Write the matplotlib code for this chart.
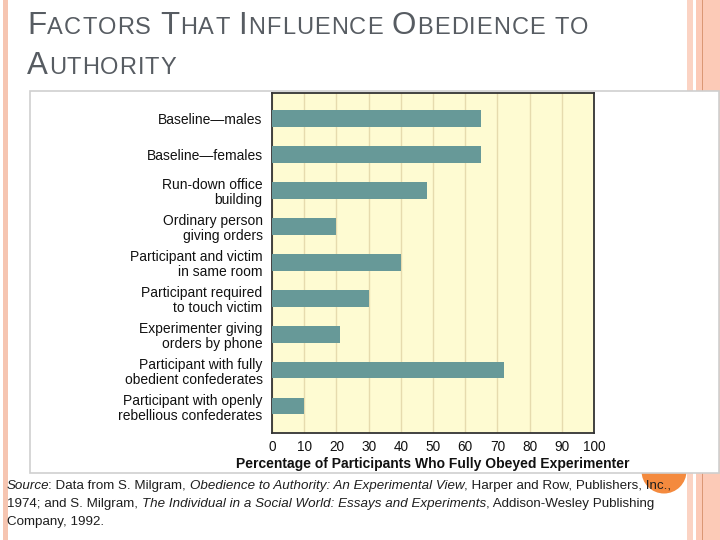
import matplotlib
matplotlib.use("Agg")
import matplotlib.pyplot as plt
from matplotlib.patches import Rectangle, Circle

# ---- data ----
categories = [
    "Baseline\u2014males",
    "Baseline\u2014females",
    "Run-down office\nbuilding",
    "Ordinary person\ngiving orders",
    "Participant and victim\nin same room",
    "Participant required\nto touch victim",
    "Experimenter giving\norders by phone",
    "Participant with fully\nobedient confederates",
    "Participant with openly\nrebellious confederates",
]
values = [65, 65, 48, 20, 40, 30, 21, 72, 10]
xticks = [0, 10, 20, 30, 40, 50, 60, 70, 80, 90, 100]
xlabel = "Percentage of Participants Who Fully Obeyed Experimenter"

title_line1 = [("F", "big"), ("ACTORS ", "small"), ("T", "big"), ("HAT ", "small"),
               ("I", "big"), ("NFLUENCE ", "small"), ("O", "big"), ("BEDIENCE TO", "small")]
title_line2 = [("A", "big"), ("UTHORITY", "small")]

source_lines = [
    [("Source", "i"), (": Data from S. Milgram, ", "n"),
     ("Obedience to Authority: An Experimental View", "i"),
     (", Harper and Row, Publishers, Inc.,", "n")],
    [("1974; and S. Milgram, ", "n"),
     ("The Individual in a Social World: Essays and Experiments", "i"),
     (", Addison-Wesley Publishing", "n")],
    [("Company, 1992.", "n")],
]

FONT = ["Liberation Sans", "DejaVu Sans"]
plt.rcParams["font.family"] = FONT

W, H = 720, 540
fig = plt.figure(figsize=(7.2, 5.4), dpi=100)
fig.patch.set_facecolor("white")

bg = fig.add_axes([0, 0, 1, 1], zorder=0)
bg.set_xlim(0, W)
bg.set_ylim(H, 0)
bg.axis("off")

# slide decorations
bg.add_patch(Rectangle((3, 0), 4.5, H, color="#F6C5B1", lw=0, zorder=1))
bg.add_patch(Rectangle((687, 0), 5.5, H, color="#FBD3C3", lw=0, zorder=1))
bg.add_patch(Rectangle((696, 0), 24, H, color="#FCCAB7", lw=0, zorder=1))
bg.add_patch(Rectangle((702, 0), 1.2, H, color="#DB9775", lw=0, zorder=1))
bg.add_patch(Circle((664, 471), 22.5, color="#F48A3E", lw=0, zorder=2))
# picture frame
bg.add_patch(Rectangle((30, 90.5), 688.5, 382, facecolor="white",
                       edgecolor="#CFCFCF", lw=1.2, zorder=3))

renderer = fig.canvas.get_renderer()


def text_width(s, style):
    t = bg.text(0, 0, "x" + s + "x", **style)
    w1 = t.get_window_extent(renderer=renderer).width
    t.remove()
    t = bg.text(0, 0, "xx", **style)
    w0 = t.get_window_extent(renderer=renderer).width
    t.remove()
    return w1 - w0


def draw_tracked(x, y, runs, styles, target_width=None):
    chars = [(c, k) for s, k in runs for c in s]
    widths = [text_width(c, styles[k]) for c, k in chars]
    natural = sum(widths)
    track = 0.0
    if target_width is not None and len(chars) > 1:
        track = (target_width - natural) / (len(chars) - 1)
    for (c, k), w in zip(chars, widths):
        if c != " ":
            bg.text(x, y, c, va="baseline", ha="left", zorder=6, **styles[k])
        x += w + track


def draw_runs(x, y, runs, styles):
    prev = None
    for txt, key in runs:
        if prev == "i" and txt[:1] == ":":
            x -= 1.5
        bg.text(x, y, txt, va="baseline", ha="left", zorder=6, **styles[key])
        x += text_width(txt, styles[key])
        prev = key


title_styles = {
    "big": dict(fontsize=22.5, color="#575C62"),
    "small": dict(fontsize=17, color="#575C62"),
}
draw_tracked(27, 34.5, title_line1, title_styles, target_width=561)
draw_tracked(27, 74, title_line2, title_styles, target_width=149)

src_styles = {
    "n": dict(fontsize=9.6, color="#1E1E1E"),
    "i": dict(fontsize=9.6, color="#1E1E1E", style="italic"),
}
for i, line in enumerate(source_lines):
    draw_runs(7, 489 + 18 * i, line, src_styles)

# ---- bar chart ----
ax = fig.add_axes([272 / W, 1 - 433 / H, 322 / W, 340 / H], zorder=5)
ax.set_facecolor("#FEFBD2")
ypos = list(range(len(categories)))
ax.barh(ypos, values, height=0.47, color="#679998", zorder=3)
ax.set_xlim(0, 100)
ax.set_ylim(8.75, -0.7)
ax.set_xticks(xticks)
ax.set_xticklabels([str(v) for v in xticks], fontsize=9.8, color="#111111")
ax.set_yticks(ypos)
ax.set_yticklabels(categories, fontsize=10, color="#111111", linespacing=1.1)
ax.tick_params(axis="both", length=0)
ax.tick_params(axis="y", pad=6.8)
ax.tick_params(axis="x", pad=5)
ax.grid(axis="x", color="#E6DBAE", lw=1.0, zorder=0)
ax.set_axisbelow(True)
for s in ax.spines.values():
    s.set_color("#333333")
    s.set_linewidth(1.3)
ax.set_xlabel(xlabel, fontsize=10, fontweight="bold", color="#111111", labelpad=2.5)

fig.savefig("out.png", dpi=100)
